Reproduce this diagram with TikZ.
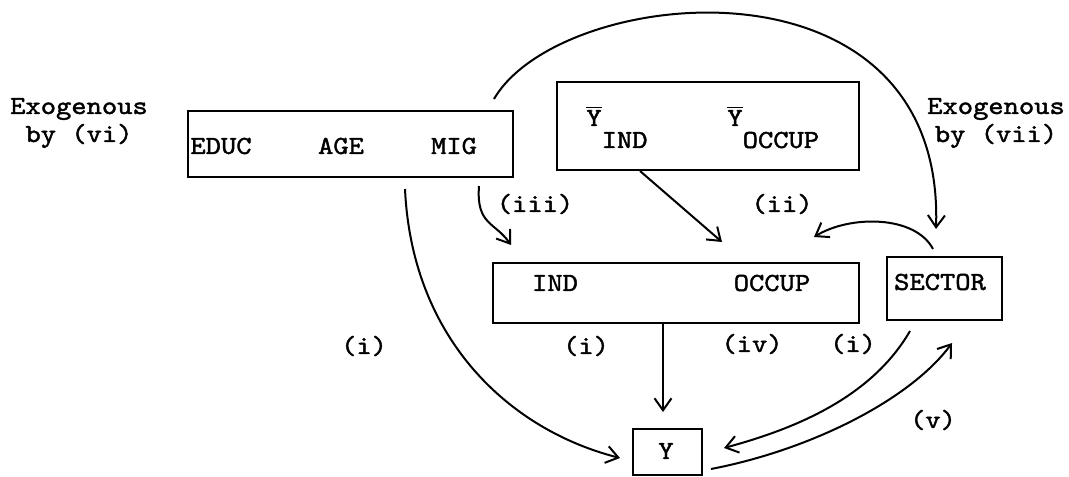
\documentclass[tikz,border=0pt]{standalone}
\usepackage{fontspec}
\setmonofont[FakeStretch=1.12,FakeBold=1.6]{lmmono10-regular.otf}
\usetikzlibrary{arrows.meta,calc}
\tikzset{
  txt/.style={font=\ttfamily\fontsize{13}{14}\selectfont, inner sep=0pt},
  box/.style={draw, line width=1pt, inner sep=0pt},
  conn/.style={line width=1pt, -{Straight Barb[length=6pt,width=8.5pt,line width=1pt]}},
}
\begin{document}
\begin{tikzpicture}[x=0.5pt,y=-0.5pt]
\useasboundingbox (0,0) rectangle (1069,476);
% boxes
\node[box, minimum width=162.5pt, minimum height=33pt] (box1) at (350.5,144) {};
\node[box, minimum width=151pt, minimum height=44pt] (box2) at (708,126) {};
\node[box, minimum width=183pt, minimum height=30pt] (box3) at (676,293) {};
\node[box, minimum width=57.5pt, minimum height=31.5pt] (sector) at (944.5,288.5) {};
\node[box, minimum width=34.5pt, minimum height=23pt] (ybox) at (667.5,452) {};
% texts
\node[txt, align=center] (exo1) at (79,123) {Exogenous\\by (vi)};
\node[txt, align=center] (exo2) at (996,123) {Exogenous\\by (vii)};
\node[txt] (educ) at (221,146) {EDUC};
\node[txt] (age) at (341,146) {AGE};
\node[txt] (mig) at (454,146) {MIG};
\node[txt, anchor=base west] (yind) at (586,126) {$\overline{\hbox{Y}}$\raisebox{-11pt}{IND}};
\node[txt, anchor=base west] (yocc) at (727,126) {$\overline{\hbox{Y}}$\raisebox{-11pt}{OCCUP}};
\node[txt] (ind) at (555,283) {IND};
\node[txt] (occup) at (772,283) {OCCUP};
\node[txt] (sectxt) at (940,282) {SECTOR};
\node[txt] (ytxt) at (666,451) {Y};
% labels
\node[txt] (l3) at (535,204) {(iii)};
\node[txt] (l2) at (782,204) {(ii)};
\node[txt] (l1a) at (364,346) {(i)};
\node[txt] (l1b) at (586,346) {(i)};
\node[txt] (l4) at (752,344) {(iv)};
\node[txt] (l1c) at (853,344) {(i)};
\node[txt] (l5) at (933,420) {(v)};
% connectors
\draw[conn] ($(box1.north east)+(-20,-11)$) .. controls (560,-15) and (945,-55) .. ($(sector.north)+(-8.5,-27)$);
\draw[conn] ($(box1.south east)+(-35,8)$) .. controls (476,225) and (495,222) .. ($(box3.north west)+(19,-17)$);
\draw[conn] ($(box1.south)+(54.5,11)$) .. controls (412,340) and (510,430) .. ($(ybox.west)+(-12,6)$);
\draw[conn] ($(box2.south)+(-68,0)$) -- ($(box3.north)+(46,-20)$);
\draw[conn] ($(sector.north)+(-11.5,-7)$) .. controls (915,215) and (850,215) .. ($(box3.north east)+(-46,-25)$);
\draw[conn] ($(box3.south)+(-13,0)$) -- ($(ybox.north)+(-4.5,-16)$);
\draw[conn] ($(sector.south)+(-34.5,10)$) .. controls (870,400) and (790,430) .. ($(ybox.east)+(21,-4)$);
\draw[conn] ($(ybox.east)+(8,17)$) .. controls (810,450) and (910,400) .. ($(sector.south)+(7.5,22)$);
\end{tikzpicture}
\end{document}
